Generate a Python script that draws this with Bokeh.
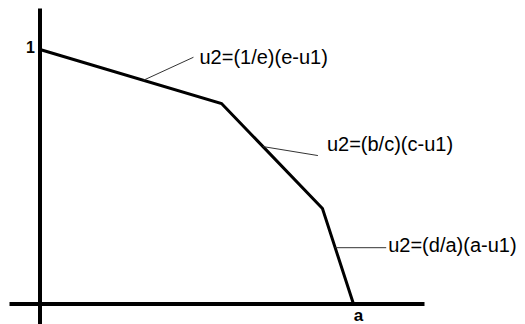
from bokeh.plotting import figure
from bokeh.models import Range1d
from bokeh.core.properties import value
from bokeh.embed import file_html
from bokeh.resources import INLINE

# Utility possibility frontier: vertices (u1, u2), u2 intercept 1, u1 intercept a (= 1 unit)
u1_pts = [0.0, 0.579, 0.901, 1.0]
u2_pts = [1.0, 0.788, 0.375, 0.0]

# Equation of each linear piece of the frontier
seg_labels = ["u2=(1/e)(e-u1)", "u2=(b/c)(c-u1)", "u2=(d/a)(a-u1)"]
u2_tick = ["1"]
u1_tick = ["a"]

W, H = 525, 324
X0, Y0 = 39.5, 303.5      # pixel position of the origin
SX, SY = 313.5, 254.5     # pixels per unit along u1 / u2


def px(dx, dy):
    """Convert a pixel offset (screen y down) into data units."""
    return dx / SX, -dy / SY


p = figure(width=W, height=H,
           x_range=Range1d(-X0 / SX, (W - X0) / SX),
           y_range=Range1d(-(H - Y0) / SY, Y0 / SY),
           x_axis_type=None, y_axis_type=None,
           toolbar_location=None, output_backend="svg", min_border=0)
p.grid.visible = False
p.outline_line_color = None
p.background_fill_color = "white"
p.border_fill_color = "white"

# Hand-drawn axes
x_left, _ = px(9 - X0, 0)
x_right, _ = px(424 - X0, 0)
_, y_top = px(0, 8 - Y0)
_, y_bot = px(0, H - Y0)
p.line([x_left, x_right], [0, 0], line_color="black", line_width=4)
p.line([0, 0], [y_bot, y_top], line_color="black", line_width=4)

# Frontier
p.line(u1_pts, u2_pts, line_color="black", line_width=3, line_join="miter")

# Leader lines from each segment to its equation
anchor_t = [0.57, 0.41, 0.41]
leader_off = [(50, -23), (55, 9), (51, 0)]
text_off = [(6, -0.5), (9, -12), (2, -3)]
lx0, ly0, lx1, ly1, tx, ty = [], [], [], [], [], []
for i in range(3):
    t = anchor_t[i]
    ax = u1_pts[i] + t * (u1_pts[i + 1] - u1_pts[i])
    ay = u2_pts[i] + t * (u2_pts[i + 1] - u2_pts[i])
    dx, dy = px(*leader_off[i])
    ex, ey = ax + dx, ay + dy
    ox, oy = px(*text_off[i])
    lx0.append(ax); ly0.append(ay); lx1.append(ex); ly1.append(ey)
    tx.append(ex + ox); ty.append(ey + oy)

p.segment(lx0, ly0, lx1, ly1, line_color="#333333", line_width=1)
p.text(tx, ty, text=seg_labels, text_font=value("Liberation Sans"),
       text_font_size="20px", text_align="left", text_baseline="middle",
       text_color="black")

# Intercept labels
ox, oy = px(-9.5, -3)
p.text([ox], [1 + oy], text=u2_tick, text_font=value("Liberation Sans"),
       text_font_size="16px", text_font_style="bold", text_align="center",
       text_baseline="middle", text_color="black")
ox, oy = px(5, 11)
p.text([1 + ox], [oy], text=u1_tick, text_font=value("Liberation Sans"),
       text_font_size="17px", text_font_style="bold", text_align="center",
       text_baseline="middle", text_color="black")

open("out.html", "w").write(file_html(p, INLINE))
